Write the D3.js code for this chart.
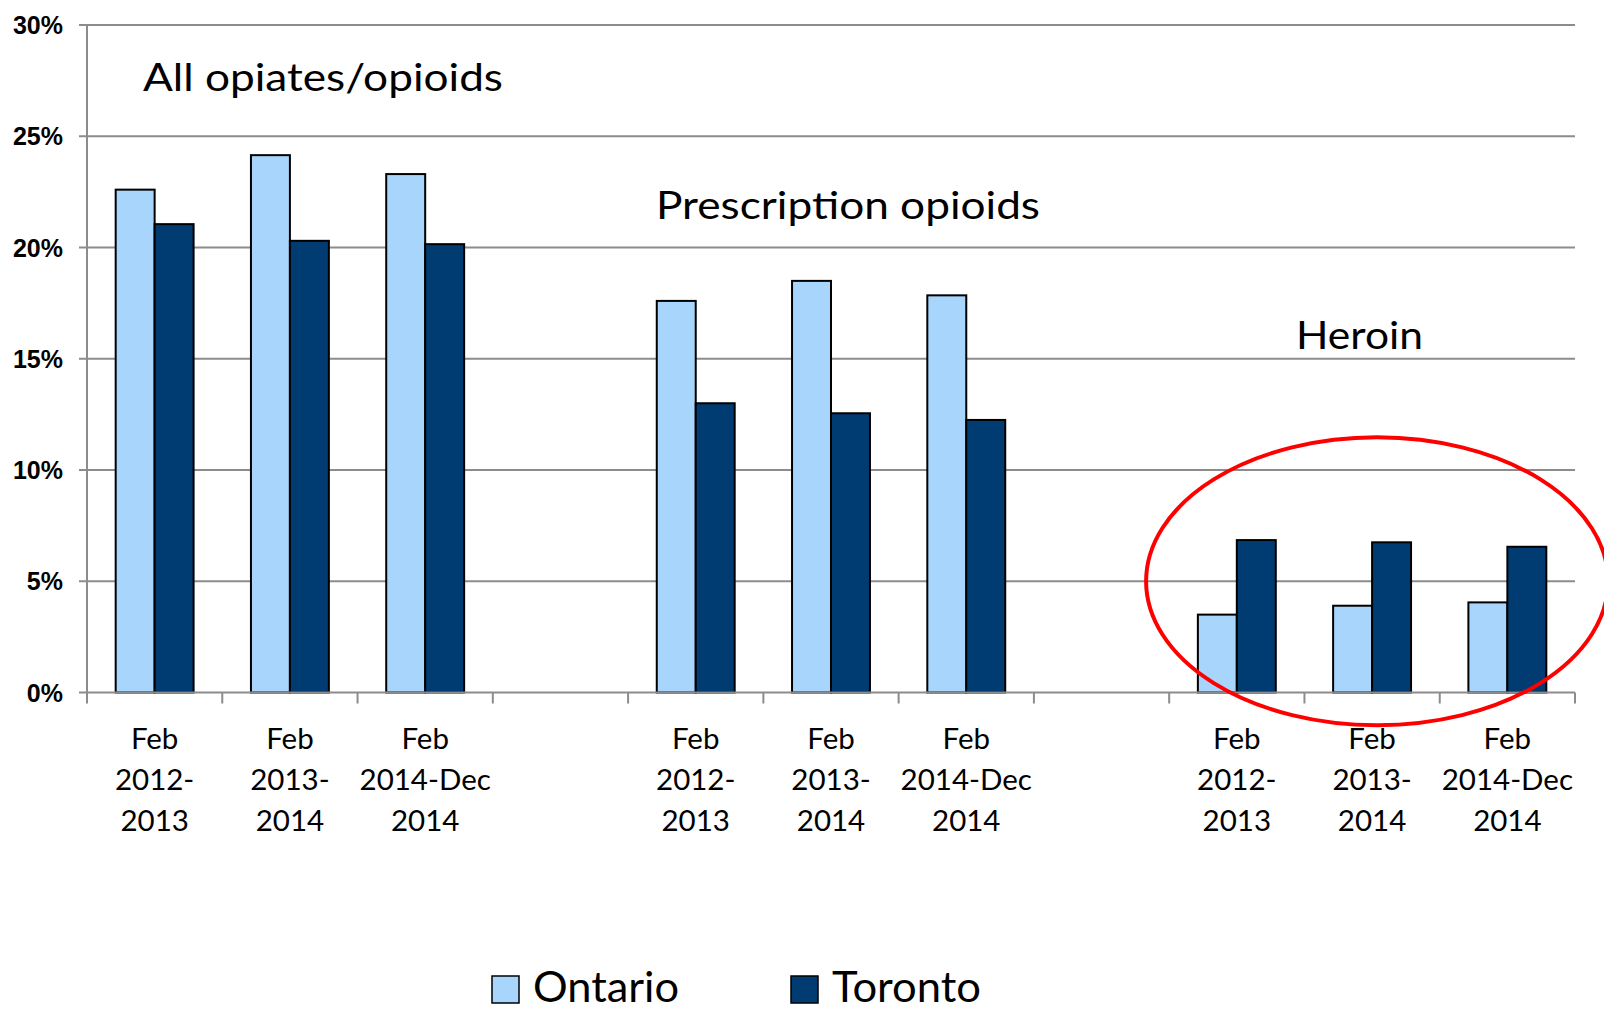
<!DOCTYPE html>
<html>
<head>
<meta charset="utf-8">
<script src="https://cdn.jsdelivr.net/npm/d3@7"></script>
<style>
  html, body { margin: 0; padding: 0; background: #fff; }
  svg { display: block; }
</style>
</head>
<body>
<svg id="chart" width="1604" height="1010"></svg>
<script>
// ---------------- data ----------------
const groups = ["All opiates/opioids", "Prescription opioids", "Heroin"];
const periodLines = [["Feb", "2012-", "2013"], ["Feb", "2013-", "2014"], ["Feb", "2014-Dec", "2014"]];
const seriesNames = ["Ontario", "Toronto"];
const ontario = [22.6, 24.15, 23.3, 17.6, 18.5, 17.85, 3.5, 3.9, 4.05];
const toronto = [21.05, 20.3, 20.15, 13.0, 12.55, 12.25, 6.85, 6.75, 6.55];
const yTicks = [0, 5, 10, 15, 20, 25, 30];
const yTickLabels = ["0%", "5%", "10%", "15%", "20%", "25%", "30%"];
const colors = ["#a8d5fc", "#003c72"];

// build category slots: 3 periods per group, one empty slot between groups
const slots = [];
const rows = [];
groups.forEach((g, gi) => {
  periodLines.forEach((p, pi) => {
    const key = "g" + gi + "p" + pi;
    slots.push(key);
    const i = gi * 3 + pi;
    rows.push({ key, group: g, lines: p, values: [ontario[i], toronto[i]] });
  });
  if (gi < groups.length - 1) slots.push("gap" + gi);
});

// ---------------- layout ----------------
const svg = d3.select("#chart");
const plotLeft = 87, plotRight = 1575, plotTop = 25, plotBottom = 692.5;

const x = d3.scaleBand().domain(slots).range([plotLeft, plotRight]).paddingInner(0).paddingOuter(0);
const xs = d3.scaleBand().domain(seriesNames)
  .range([x.bandwidth() * 0.212, x.bandwidth() * 0.788]).padding(0);
const y = d3.scaleLinear().domain([0, 30]).range([plotBottom, plotTop]);

const gridColor = "#8c8c8c";

// gridlines
svg.append("g").selectAll("line").data(yTicks.filter(t => t > 0)).join("line")
  .attr("x1", plotLeft - 8).attr("x2", plotRight)
  .attr("y1", d => y(d)).attr("y2", d => y(d))
  .attr("stroke", gridColor).attr("stroke-width", 2);

// y axis line
svg.append("line").attr("x1", plotLeft).attr("x2", plotLeft).attr("y1", y(30)).attr("y2", y(0))
  .attr("stroke", gridColor).attr("stroke-width", 2);

// y labels
svg.append("g").selectAll("text").data(yTicks).join("text")
  .attr("x", 63).attr("y", d => y(d))
  .attr("dy", "0.36em")
  .attr("text-anchor", "end")
  .attr("font-family", "'Liberation Sans', Arial, sans-serif")
  .attr("font-weight", "bold").attr("font-size", 25).attr("fill", "#000")
  .text((d, i) => yTickLabels[i]);

// bars
const barG = svg.append("g");
rows.forEach(r => {
  barG.append("g").attr("transform", `translate(${x(r.key)},0)`)
    .selectAll("rect").data(r.values).join("rect")
    .attr("x", (d, i) => xs(seriesNames[i]))
    .attr("width", xs.bandwidth())
    .attr("y", d => y(d))
    .attr("height", d => y(0) - y(d))
    .attr("fill", (d, i) => colors[i])
    .attr("stroke", "#000").attr("stroke-width", 2);
});

// x axis baseline
svg.append("line").attr("x1", plotLeft - 8).attr("x2", plotRight).attr("y1", y(0)).attr("y2", y(0))
  .attr("stroke", gridColor).attr("stroke-width", 2);

// x tick marks at slot boundaries
const boundaries = slots.map(s => x(s)).concat([x(slots[slots.length - 1]) + x.bandwidth()]);
svg.append("g").selectAll("line").data(boundaries).join("line")
  .attr("x1", d => d).attr("x2", d => d)
  .attr("y1", y(0)).attr("y2", y(0) + 11)
  .attr("stroke", gridColor).attr("stroke-width", 2);

// x labels
const labelFont = "Lato, 'Open Sans', sans-serif";
const xl = svg.append("g");
rows.forEach(r => {
  const t = xl.append("text")
    .attr("text-anchor", "middle")
    .attr("font-family", labelFont).attr("font-size", 29.5).attr("fill", "#000");
  r.lines.forEach((ln, li) => {
    t.append("tspan").attr("x", x(r.key) + x.bandwidth() / 2)
      .attr("y", 749 + li * 41).text(ln);
  });
});

// group titles
const titlePos = [[143, 91, 360], [656, 219, 384], [1296, 349, 127]];
svg.append("g").selectAll("text").data(groups).join("text")
  .attr("x", (d, i) => titlePos[i][0]).attr("y", (d, i) => titlePos[i][1])
  .attr("textLength", (d, i) => titlePos[i][2]).attr("lengthAdjust", "spacingAndGlyphs")
  .attr("font-family", labelFont).attr("font-size", 39.5).attr("fill", "#000")
  .text(d => d);

// red ellipse highlighting heroin group
const heroinMid = x("g2p1") + x.bandwidth() / 2;
svg.append("ellipse")
  .attr("cx", heroinMid + 5).attr("cy", y(5))
  .attr("rx", 231).attr("ry", 144)
  .attr("fill", "none").attr("stroke", "#ff0000").attr("stroke-width", 4);

// legend
const legendX = [492, 791];
const lg = svg.append("g");
seriesNames.forEach((s, i) => {
  lg.append("rect").attr("x", legendX[i]).attr("y", 976).attr("width", 27).attr("height", 27)
    .attr("fill", colors[i]).attr("stroke", "#000").attr("stroke-width", 1.5);
  lg.append("text").attr("x", legendX[i] + 41).attr("y", 1002)
    .attr("textLength", i === 0 ? 146 : 149).attr("lengthAdjust", "spacingAndGlyphs")
    .attr("font-family", labelFont).attr("font-size", 42).attr("fill", "#000")
    .text(s);
});
</script>
</body>
</html>
